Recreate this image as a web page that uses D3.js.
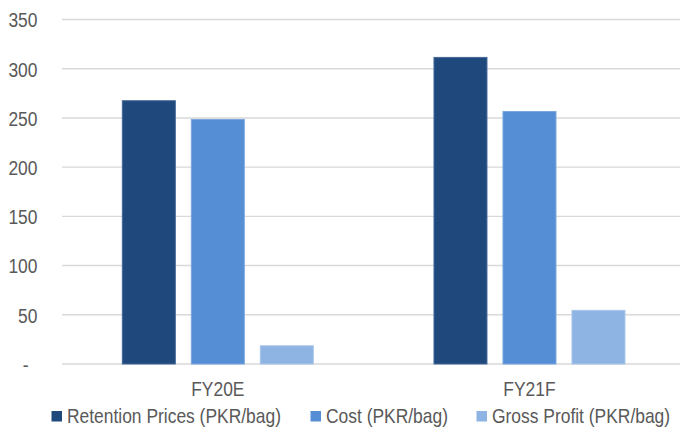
<!DOCTYPE html>
<html>
<head>
<meta charset="utf-8">
<script src="https://cdn.jsdelivr.net/npm/d3@7"></script>
<style>
  html, body { margin: 0; padding: 0; background: #ffffff; }
  svg { display: block; }
  text { fill: #595959; }
</style>
</head>
<body>
<div id="chart"></div>
<script>
const categories = ["FY20E", "FY21F"];
const seriesNames = ["Retention Prices (PKR/bag)", "Cost (PKR/bag)", "Gross Profit (PKR/bag)"];
const retentionPrices = [268, 312];
const cost = [249, 257];
const grossProfit = [19, 55];
const yTicks = [0, 50, 100, 150, 200, 250, 300, 350];
const colors = ["#1f497d", "#558ed5", "#8db4e2"];
const strokes = ["#46699a", "#7aa6dd", "#a9c6ea"];

const seriesValues = [retentionPrices, cost, grossProfit];
const W = 680, H = 430;
const FONT = 20.5, SQUEEZE = 0.85;
const FAMILY = '"Liberation Sans", Arial, sans-serif';

const svg = d3.select("#chart").append("svg").attr("width", W).attr("height", H);

const y = d3.scaleLinear().domain([0, 350]).range([364, 19.5]);
const x0 = d3.scaleBand().domain(categories).range([62, 685.3]).padding(0);
const x1 = d3.scaleBand().domain(seriesNames).range([-96, 96]).paddingInner(15 / 69).paddingOuter(0);

// gridlines
svg.append("g").selectAll("line").data(yTicks).join("line")
  .attr("x1", 62).attr("x2", W)
  .attr("y1", d => y(d)).attr("y2", d => y(d))
  .attr("stroke", "#d9d9d9").attr("stroke-width", 1.4);

// bars
const groups = svg.append("g").selectAll("g").data(categories).join("g")
  .attr("transform", c => `translate(${x0(c) + x0.bandwidth() / 2},0)`);
groups.selectAll("rect")
  .data((c, ci) => seriesNames.map((s, si) => ({ s, si, v: seriesValues[si][ci] })))
  .join("rect")
  .attr("x", d => x1(d.s) + 0.5)
  .attr("width", x1.bandwidth() - 1)
  .attr("y", d => y(d.v) + 0.5)
  .attr("height", d => y(0) - y(d.v) - 0.5)
  .attr("fill", d => colors[d.si])
  .attr("stroke", d => strokes[d.si])
  .attr("stroke-width", 1);

// y axis
const yAxis = d3.axisLeft(y).tickValues(yTicks).tickSize(0).tickPadding(0)
  .tickFormat(d => d === 0 ? "-" : d3.format("d")(d));
const gy = svg.append("g").attr("transform", "translate(37.5,0)").call(yAxis);
gy.select(".domain").remove();
gy.selectAll("text")
  .attr("fill", "#595959")
  .style("font-size", FONT + "px")
  .style("font-family", FAMILY)
  .attr("dy", "0.36em")
  .attr("x", d => d === 0 ? -9 / SQUEEZE : 0)
  .attr("transform", `scale(${SQUEEZE},1)`);

// x axis labels
const xAxis = d3.axisBottom(x0).tickSize(0).tickPadding(0);
const gx = svg.append("g").attr("transform", "translate(0,364)").call(xAxis);
gx.select(".domain").remove();
gx.selectAll("text")
  .attr("fill", "#595959")
  .style("font-size", FONT + "px")
  .style("font-family", FAMILY)
  .attr("dy", null)
  .attr("y", 32.5)
  .attr("transform", `scale(${SQUEEZE},1)`);

// legend
const legendX = [51.5, 310.5, 476.5];
const legend = svg.append("g").selectAll("g").data(seriesNames).join("g")
  .attr("transform", (d, i) => `translate(${legendX[i]},0)`);
legend.append("rect")
  .attr("x", 0).attr("y", 411).attr("width", 10.5).attr("height", 10.5)
  .attr("fill", (d, i) => colors[i]);
legend.append("text")
  .attr("transform", `translate(15.5,422.5) scale(${SQUEEZE},1)`)
  .attr("fill", "#595959")
  .style("font-size", FONT + "px")
  .style("font-family", FAMILY)
  .text(d => d);
</script>
</body>
</html>
